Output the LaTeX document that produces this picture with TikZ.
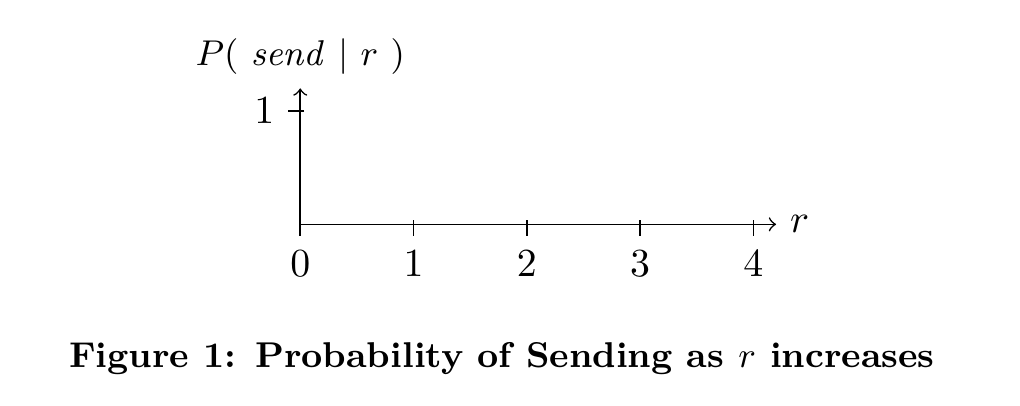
\documentclass[tikz,border=0pt]{standalone}
\usepackage{amssymb,amsmath}
\usepackage{tikz}

\begin{document}
\begin{tikzpicture}
    \useasboundingbox (-2.65,-1.595) rectangle (6.353,1.98);
    \coordinate (O) at (0,0);
    \node[right] at (4.2,0) (R) {$r$};
    \node[above, font=\small] at (0,1.2) (P) {$P(\ \mathit{send}\ |\ r\ )$};
    \draw [->] (O) -- (R.west);
    \draw [->] (O) -- (P.south);
    \node[below] at (0,-3pt) (X0) {$0$};
    \node[below] at (1,-3pt) (X1) {$1$};
    \node[below] at (2,-3pt) (X2) {$2$};
    \node[below] at (3,-3pt) (X3) {$3$};
    \node[below] at (4,-3pt) (X4) {$4$};
    \node[left] at (-3pt,1) (Y1) {$1$};
    \draw (0,1pt) -- (X0);
    \draw (1,1pt) -- (X1);
    \draw (2,1pt) -- (X2);
    \draw (3,1pt) -- (X3);
    \draw (4,1pt) -- (X4);
    \draw (1pt,1) -- (Y1);
    \node[anchor=base, inner sep=0pt, font=\small] at (1.78,-1.262) (C) {\textbf{Figure 1: Probability of Sending as $r$ increases}};
\end{tikzpicture}
\end{document}
